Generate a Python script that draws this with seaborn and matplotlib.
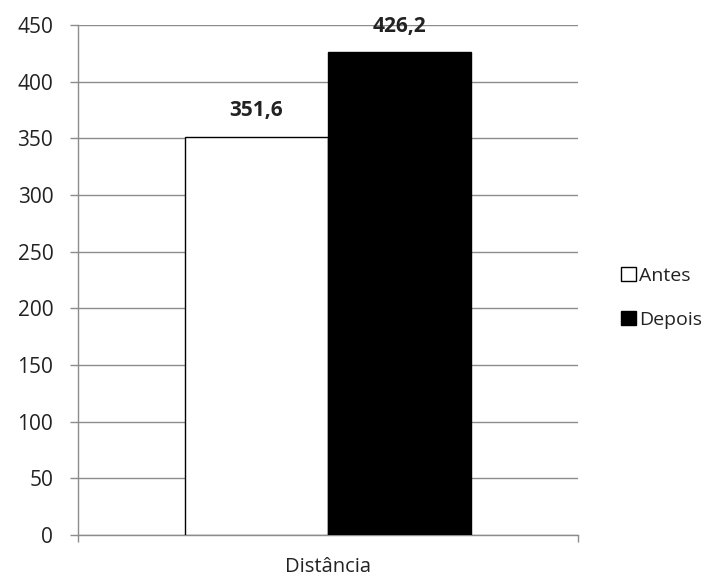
import matplotlib
matplotlib.use("Agg")
import matplotlib.pyplot as plt
import seaborn as sns
import pandas as pd
from matplotlib.patches import Patch

categories = ["Distância"]
series = ["Antes", "Depois"]
values_antes = [351.6]
values_depois = [426.2]
yticks = [0, 50, 100, 150, 200, 250, 300, 350, 400, 450]

df = pd.DataFrame({
    "cat": categories * 2,
    "serie": ["Antes"] * len(categories) + ["Depois"] * len(categories),
    "val": values_antes + values_depois,
})

sns.set_theme(style="white")
plt.rcParams["font.family"] = ["Open Sans", "DejaVu Sans"]

FS = 15
FS_SMALL = 14
TXT = "#222222"

fig = plt.figure(figsize=(7.18, 5.79), dpi=100)
ax = fig.add_axes([78 / 718, 44 / 579, 500 / 718, 510 / 579])

sns.barplot(data=df, x="cat", y="val", hue="serie", palette=["white", "black"],
            edgecolor="black", linewidth=1.0, width=0.572, ax=ax, legend=False,
            zorder=3)

ax.set_xlim(-0.5, 0.5)
ax.set_ylim(0, 450)
ax.set_yticks(yticks)
ax.set_yticklabels([str(t) for t in yticks], fontsize=FS, color=TXT)
ax.grid(axis="y", color="#8c8c8c", linewidth=1.0, zorder=0)
ax.set_axisbelow(True)
ax.tick_params(axis="y", left=True, length=5.8, width=1.0, color="#8c8c8c", pad=12)
ax.tick_params(axis="x", bottom=False, labelsize=FS_SMALL + 0.5, pad=10, labelcolor=TXT)
ax.set_xlabel("")
ax.set_ylabel("")
for s in ["top", "right"]:
    ax.spines[s].set_visible(False)
for s in ["left", "bottom"]:
    ax.spines[s].set_color("#8c8c8c")
    ax.spines[s].set_linewidth(1.0)
# small end ticks on bottom axis
ax.set_xticks([-0.5, 0.5], minor=True)
ax.tick_params(axis="x", which="minor", bottom=True, length=5, color="#8c8c8c", width=1.0)

for cont in ax.containers:
    ax.bar_label(cont, labels=[f"{v:.1f}".replace(".", ",") for v in cont.datavalues],
                 padding=11, fontsize=FS, fontweight="bold", color=TXT)

handles = [Patch(facecolor="white", edgecolor="black", label="Antes"),
           Patch(facecolor="black", edgecolor="black", label="Depois")]
fig.legend(handles=handles, loc="center left", bbox_to_anchor=(621 / 718, 1 - 298 / 579),
           frameon=False, fontsize=FS_SMALL, handlelength=0.75, handleheight=0.75,
           handletextpad=0.2, labelspacing=1.35, labelcolor=TXT,
           borderpad=0, borderaxespad=0)

fig.savefig("out.png", dpi=100)
